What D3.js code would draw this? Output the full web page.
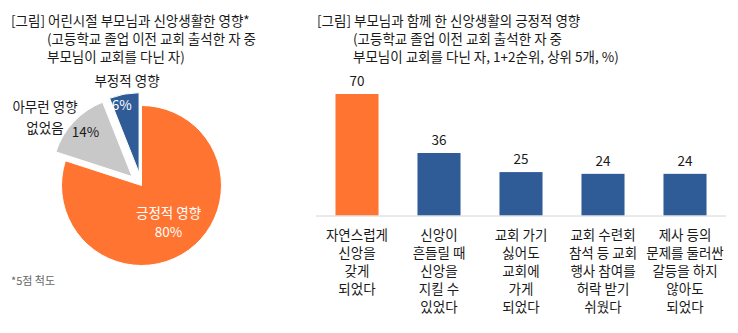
<!DOCTYPE html>
<html>
<head>
<meta charset="utf-8">
<script src="https://cdn.jsdelivr.net/npm/d3@7"></script>
<style>
  html, body { margin: 0; padding: 0; background: #fff; }
  svg { display: block; font-family: "Noto Sans CJK KR", "Noto Sans", sans-serif; }
</style>
</head>
<body>
<svg id="chart" width="738" height="333"></svg>
<script>
// Left: influence of childhood faith life with parents (pie)
const pieLabels = ["긍정적 영향", "아무런 영향 없었음", "부정적 영향"];
const pieValues = [80, 14, 6];
const pieColors = ["#FF7430", "#C8C8C8", "#2F5B97"];

// Right: positive effects of faith life with parents (bars)
const barCategories = [
  ["자연스럽게", "신앙을", "갖게", "되었다"],
  ["신앙이", "흔들릴 때", "신앙을", "지킬 수", "있었다"],
  ["교회 가기", "싫어도", "교회에", "가게", "되었다"],
  ["교회 수련회", "참석 등 교회", "행사 참여를", "허락 받기", "쉬웠다"],
  ["제사 등의", "문제를 둘러싼", "갈등을 하지", "않아도", "되었다"]
];
const barValues = [70, 36, 25, 24, 24];
const barColors = ["#FF7430", "#2F5B97", "#2F5B97", "#2F5B97", "#2F5B97"];

const leftTitle = ["[그림] 어린시절 부모님과 신앙생활한 영향*", "(고등학교 졸업 이전 교회 출석한 자 중", "부모님이 교회를 다닌 자)"];
const rightTitle = ["[그림] 부모님과 함께 한 신앙생활의 긍정적 영향", "(고등학교 졸업 이전 교회 출석한 자 중", "부모님이 교회를 다닌 자, 1+2순위, 상위 5개, %)"];
const footnote = "*5점 척도";

const svg = d3.select("#chart");
const ink = "#1a1a1a";
const fs = 13.5;

// ---------- titles ----------
function drawTitle(lines, x, indent, y0) {
  const t = svg.append("text").attr("font-size", fs).attr("fill", ink);
  lines.forEach((s, i) => {
    t.append("tspan").attr("x", i === 0 ? x : indent).attr("y", y0 + i * 18).text(s);
  });
}
drawTitle(leftTitle, 11, 47, 26);
drawTitle(rightTitle, 317, 353, 26);

// ---------- pie ----------
const cx = 141.5, cy = 185.5, R = 80, explode = 13;
const pie = d3.pie().sort(null).value(d => d)(pieValues);
const arc = d3.arc().innerRadius(0).outerRadius(R);
const g = svg.append("g").attr("transform", `translate(${cx},${cy})`);

function offset(d, r) {
  const a = (d.startAngle + d.endAngle) / 2;
  return [Math.sin(a) * r, -Math.cos(a) * r];
}

pie.forEach((d, i) => {
  const [ox, oy] = i === 0 ? [0, 0] : offset(d, explode);
  g.append("path")
    .attr("d", arc(d))
    .attr("transform", `translate(${ox},${oy})`)
    .attr("fill", pieColors[i])
    .attr("stroke", "#fff")
    .attr("stroke-width", 1);
});

// in-slice value labels
const valueRadius = [46, 77, 82];
const valueShift = [[0, 0], [0, -1], [-4.5, 0]];
const valueFill = ["#fff", ink, "#fff"];
pie.forEach((d, i) => {
  let [x, y] = offset(d, valueRadius[i]);
  x += valueShift[i][0]; y += valueShift[i][1];
  const t = g.append("text").attr("text-anchor", "middle").attr("font-size", fs).attr("fill", valueFill[i]);
  if (i === 0) {
    t.append("tspan").attr("x", x).attr("y", y - 4.5).text(pieLabels[0]);
    t.append("tspan").attr("x", x).attr("y", y + 14.5).text(pieValues[0] + "%");
  } else {
    t.attr("x", x).attr("y", y + 5).text(pieValues[i] + "%");
  }
});

// outside category labels
{
  const [x1, y1] = offset(pie[1], 118);
  const lx = x1 - 10.5, ly = y1 + 12;
  const words = pieLabels[1].split(" ");
  const t = g.append("text").attr("text-anchor", "middle").attr("font-size", fs).attr("fill", ink);
  t.append("tspan").attr("x", lx).attr("y", ly - 5).text(words.slice(0, 2).join(" "));
  t.append("tspan").attr("x", lx).attr("y", ly + 16).text(words[2]);
  const [x2, y2] = offset(pie[2], 104);
  g.append("text").attr("text-anchor", "middle").attr("font-size", fs).attr("fill", ink)
    .attr("x", x2 + 5).attr("y", y2 + 3).text(pieLabels[2]);
}

svg.append("text").attr("x", 11).attr("y", 285).attr("font-size", 11).attr("fill", "#666")
  .text(footnote);

// ---------- bars ----------
const baseY = 215.5;
const x = d3.scaleBand().domain(d3.range(barValues.length)).range([316, 726]).paddingInner(0.475).paddingOuter(0.2375);
const y = d3.scaleLinear().domain([0, 70]).range([baseY, 94]);

svg.append("g").selectAll("rect").data(barValues).join("rect")
  .attr("x", (d, i) => x(i))
  .attr("y", d => y(d))
  .attr("width", x.bandwidth())
  .attr("height", d => baseY - y(d))
  .attr("fill", (d, i) => barColors[i]);

svg.append("g").selectAll("text").data(barValues).join("text")
  .attr("x", (d, i) => x(i) + x.bandwidth() / 2)
  .attr("y", d => y(d) - 8)
  .attr("text-anchor", "middle")
  .attr("font-size", fs)
  .attr("fill", ink)
  .text(d => d);

svg.append("line").attr("x1", 316).attr("x2", 726).attr("y1", baseY + 0.5).attr("y2", baseY + 0.5)
  .attr("stroke", "#d4d4d4").attr("stroke-width", 1);

barCategories.forEach((lines, i) => {
  const t = svg.append("text").attr("text-anchor", "middle").attr("font-size", fs)
    .attr("fill", ink);
  lines.forEach((s, j) => {
    t.append("tspan").attr("x", x(i) + x.bandwidth() / 2).attr("y", 240 + j * 18).text(s);
  });
});
</script>
</body>
</html>
